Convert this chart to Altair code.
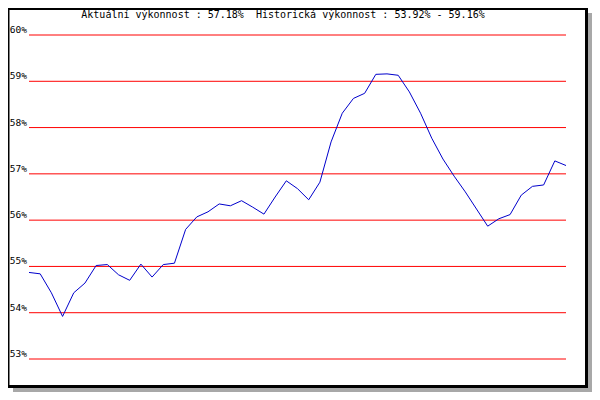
import altair as alt
import pandas as pd

# Performance series (percent)
values = [54.87, 54.84, 54.43, 53.92, 54.43, 54.64, 55.02, 55.04, 54.82, 54.70,
          55.05, 54.77, 55.04, 55.07, 55.80, 56.07, 56.18, 56.35, 56.31, 56.42,
          56.28, 56.13, 56.50, 56.85, 56.68, 56.44, 56.82, 57.69, 58.31, 58.63,
          58.74, 59.15, 59.16, 59.13, 58.77, 58.31, 57.77, 57.32, 56.95, 56.61,
          56.24, 55.87, 56.03, 56.12, 56.54, 56.73, 56.76, 57.28, 57.18]
steps = list(range(len(values)))

grid_levels = [53, 54, 55, 56, 57, 58, 59, 60]
grid_labels = ["53%", "54%", "55%", "56%", "57%", "58%", "59%", "60%"]

title_text = "Aktuální výkonnost : 57.18%\u00a0 Historická výkonnost : 53.92% - 59.16%"

FONT = "DejaVu Sans Mono"
W, H = 537, 324

df_line = pd.DataFrame({"idx": steps, "value": values})
df_grid = pd.DataFrame({"level": grid_levels, "label": grid_labels})
one = pd.DataFrame({"a": [0]})

yscale = alt.Scale(domain=[53, 60], zero=False, nice=False)
xscale = alt.Scale(domain=[0, len(values) - 1], zero=False, nice=False)

def box(color, x, x2, y, y2):
    return alt.Chart(one).mark_rect(color=color).encode(
        x=alt.value(x), x2=alt.value(x2), y=alt.value(y), y2=alt.value(y2)
    )

shadow_r = box("#a8a8a8", 559, 563, -22, 357)
shadow_b = box("#a8a8a8", -16, 563, 353, 357)
frame = box("#000000", -21, 559, -27, 353)
inner = box("#ffffff", -19.5, 556, -25, 350)

rules = alt.Chart(df_grid).mark_rule(color="#ff0000", strokeWidth=1).encode(
    y=alt.Y("level:Q", scale=yscale, axis=None),
    x=alt.value(0),
    x2=alt.value(W),
)

labels = alt.Chart(df_grid).mark_text(
    align="right", baseline="alphabetic", dy=-2, font=FONT, fontSize=9.5, color="black"
).encode(
    y=alt.Y("level:Q", scale=yscale, axis=None),
    x=alt.value(-2),
    text="label:N",
)

line = alt.Chart(df_line).mark_line(color="#0000cc", strokeWidth=1).encode(
    x=alt.X("idx:Q", scale=xscale, axis=None),
    y=alt.Y("value:Q", scale=yscale, axis=None),
)

title = alt.Chart(one).mark_text(
    align="center", baseline="alphabetic", font=FONT, fontSize=10, color="black"
).encode(
    x=alt.value(254), y=alt.value(-17), text=alt.value(title_text)
)

chart = alt.layer(shadow_r, shadow_b, frame, inner, rules, labels, line, title).properties(
    width=W,
    height=H,
    autosize=alt.AutoSizeParams(type="none"),
    padding={"left": 21, "top": 27, "right": 26, "bottom": 33},
    background="white",
).configure_view(stroke=None)

chart.save("out.html", embed_options={"renderer": "svg", "actions": False})
